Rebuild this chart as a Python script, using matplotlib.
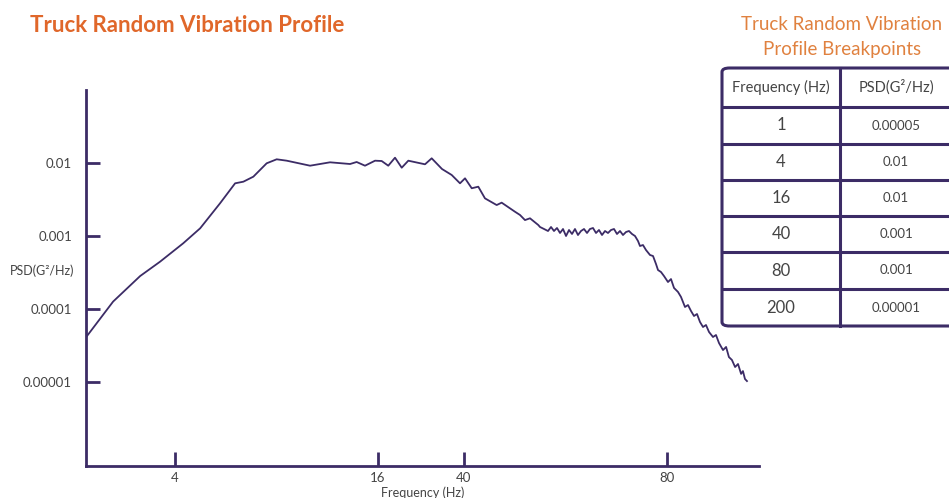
import numpy as np
import matplotlib
matplotlib.use("Agg")
import matplotlib.pyplot as plt
from matplotlib.patches import FancyBboxPatch

# curve (frequency in Hz, PSD in G^2/Hz)
freq = [2.00, 2.47, 3.05, 3.56, 4.23, 4.75, 5.44, 6.03, 6.38, 6.83,
        7.48, 8.01, 8.58, 10.06, 11.53, 13.22, 13.83, 14.64, 15.68, 16.64,
        17.85, 19.18, 20.60, 22.10, 26.40, 28.35, 31.64, 35.09, 38.33, 40.14,
        41.07, 42.00, 42.97, 44.72, 45.49, 47.61, 48.43, 49.26, 50.11, 51.55,
        51.85, 52.57, 53.29, 53.84, 54.39, 54.95, 55.52, 56.09, 56.67, 57.25,
        57.84, 58.43, 59.03, 59.64, 60.26, 60.88, 61.50, 62.14, 62.78, 63.42,
        64.08, 64.74, 65.40, 66.08, 66.76, 67.44, 68.14, 68.84, 69.55, 70.26,
        70.99, 71.72, 72.46, 72.95, 73.70, 74.46, 75.49, 76.27, 77.05, 77.58,
        78.38, 79.18, 80.35, 81.42, 82.51, 83.97, 85.09, 86.60, 87.76, 88.93,
        90.11, 91.31, 92.52, 93.76, 95.00, 96.27, 97.98, 99.28, 100.6, 102.4,
        103.8, 105.1, 106.5, 108.0, 109.4, 110.9, 111.8, 112.8, 113.8]
psd = [4.07e-5, 1.26e-4, 2.83e-4, 4.45e-4, 7.96e-4, 1.28e-3, 2.82e-3, 5.31e-3, 5.59e-3, 6.55e-3,
       1.00e-2, 1.135e-2, 1.086e-2, 9.27e-3, 1.032e-2, 9.78e-3, 1.042e-2, 9.27e-3, 1.086e-2, 1.075e-2,
       9.27e-3, 1.194e-2, 8.70e-3, 1.086e-2, 9.69e-3, 1.171e-2, 8.35e-3, 6.91e-3, 5.31e-3, 6.22e-3,
       4.54e-3, 4.77e-3, 3.30e-3, 2.67e-3, 2.88e-3, 2.16e-3, 1.95e-3, 1.66e-3, 1.756e-3, 1.42e-3,
       1.334e-3, 1.252e-3, 1.175e-3, 1.334e-3, 1.175e-3, 1.292e-3, 1.103e-3, 1.252e-3, 1.003e-3, 1.213e-3,
       1.069e-3, 1.252e-3, 1.035e-3, 1.175e-3, 1.252e-3, 1.103e-3, 1.252e-3, 1.292e-3, 1.103e-3, 1.213e-3,
       1.035e-3, 1.175e-3, 1.103e-3, 1.213e-3, 1.252e-3, 1.069e-3, 1.175e-3, 1.035e-3, 1.138e-3, 1.175e-3,
       1.069e-3, 1.003e-3, 8.56e-4, 7.31e-4, 7.54e-4, 6.44e-4, 5.50e-4, 5.33e-4, 4.14e-4, 3.42e-4,
       3.21e-4, 2.83e-4, 2.34e-4, 2.57e-4, 1.94e-4, 1.71e-4, 1.46e-4, 1.062e-4, 1.13e-4, 9.36e-5,
       7.99e-5, 8.51e-5, 6.61e-5, 5.64e-5, 6.01e-5, 4.82e-5, 4.11e-5, 4.38e-5, 3.40e-5, 2.72e-5,
       3.00e-5, 2.18e-5, 1.99e-5, 1.59e-5, 1.75e-5, 1.28e-5, 1.40e-5, 1.09e-5, 1.02e-5]

xticks = [4, 16, 40, 80]
yticks = [1e-5, 1e-4, 1e-3, 1e-2]
ylabels = ["0.00001", "0.0001", "0.001", "0.01"]

tab_freq = ["1", "4", "16", "40", "80", "200"]
tab_psd = ["0.00005", "0.01", "0.01", "0.001", "0.001", "0.00001"]

# the drawn frequency axis is schematic: piecewise log between the labelled ticks
anchor_f = np.log2([2, 4, 16, 40, 80, 120])
anchor_p = np.array([0, 89, 292, 378, 581, 673], dtype=float)

def fwd(f):
    f = np.clip(np.asarray(f, dtype=float), 1e-9, None)
    return np.interp(np.log2(f), anchor_f, anchor_p, left=-1e3, right=1e3)

def inv(p):
    return 2 ** np.interp(p, anchor_p, anchor_f)

plt.rcParams['font.family'] = ['Lato', 'DejaVu Sans']
ink = '#3c2c66'
grey = '#444444'
orange = '#e0672a'

W, H = 949, 498
fig = plt.figure(figsize=(W/100, H/100), dpi=100)
ax = fig.add_axes([86/W, 1-466/H, (759-86)/W, (466-90)/H])
ax.set_xscale('function', functions=(fwd, inv))
ax.set_yscale('log')
ax.plot(freq, psd, color=ink, lw=1.3)
ax.set_xlim(2, 120)
ax.set_ylim(6.95e-7, 0.1016)

for s in ['top', 'right']:
    ax.spines[s].set_visible(False)
for s in ['left', 'bottom']:
    ax.spines[s].set_color(ink)
    ax.spines[s].set_linewidth(2)

ax.set_xticks(xticks)
ax.set_xticklabels([str(t) for t in xticks])
ax.set_yticks(yticks)
ax.set_yticklabels(ylabels)
ax.xaxis.set_minor_locator(matplotlib.ticker.NullLocator())
ax.yaxis.set_minor_locator(matplotlib.ticker.NullLocator())
ax.tick_params(direction='in', length=10, width=2, color=ink, labelcolor=grey, labelsize=9.5)
ax.tick_params(axis='y', pad=10)
ax.tick_params(axis='x', pad=4)
ax.set_xlabel("Frequency (Hz)", fontsize=9, color=grey, labelpad=2)
fig.text(42/W, 1-271/H, "PSD(G²/Hz)", fontsize=9, color=grey, ha='center', va='center')

fig.text(30/W, 1-25/H, "Truck Random Vibration Profile", fontsize=16, fontweight='bold',
         color=orange, ha='left', va='center')

# breakpoint table
fig.text(842/W, 1-25/H, "Truck Random Vibration", fontsize=13.5, color='#e0813f', ha='center', va='center')
fig.text(842/W, 1-49/H, "Profile Breakpoints", fontsize=13.5, color='#e0813f', ha='center', va='center')

box = FancyBboxPatch((722/W, 1-326/H), 260/W, (326-68)/H, boxstyle="round,pad=0,rounding_size=0.008",
                     transform=fig.transFigure, fill=False, edgecolor=ink, lw=2.2, clip_on=False)
fig.add_artist(box)
fig.add_artist(plt.Line2D([840/W, 840/W], [1-68/H, 1-326/H], color=ink, lw=2.2))
rows = [68, 107, 144, 180, 216, 252, 289, 326]
for r in rows[1:-1]:
    fig.add_artist(plt.Line2D([722/W, 1.0], [1-r/H, 1-r/H], color=ink, lw=2.2))
fig.text(781/W, 1-(rows[0]+rows[1])/2/H, "Frequency (Hz)", fontsize=10.5, color=grey, ha='center', va='center')
fig.text(896/W, 1-(rows[0]+rows[1])/2/H, "PSD(G²/Hz)", fontsize=10.5, color=grey, ha='center', va='center')
for i in range(len(tab_freq)):
    yc = 1-(rows[i+1]+rows[i+2])/2/H
    fig.text(781/W, yc, tab_freq[i], fontsize=12, color=grey, ha='center', va='center')
    fig.text(896/W, yc, tab_psd[i], fontsize=9.5, color=grey, ha='center', va='center')

fig.savefig("out.png", dpi=100)
